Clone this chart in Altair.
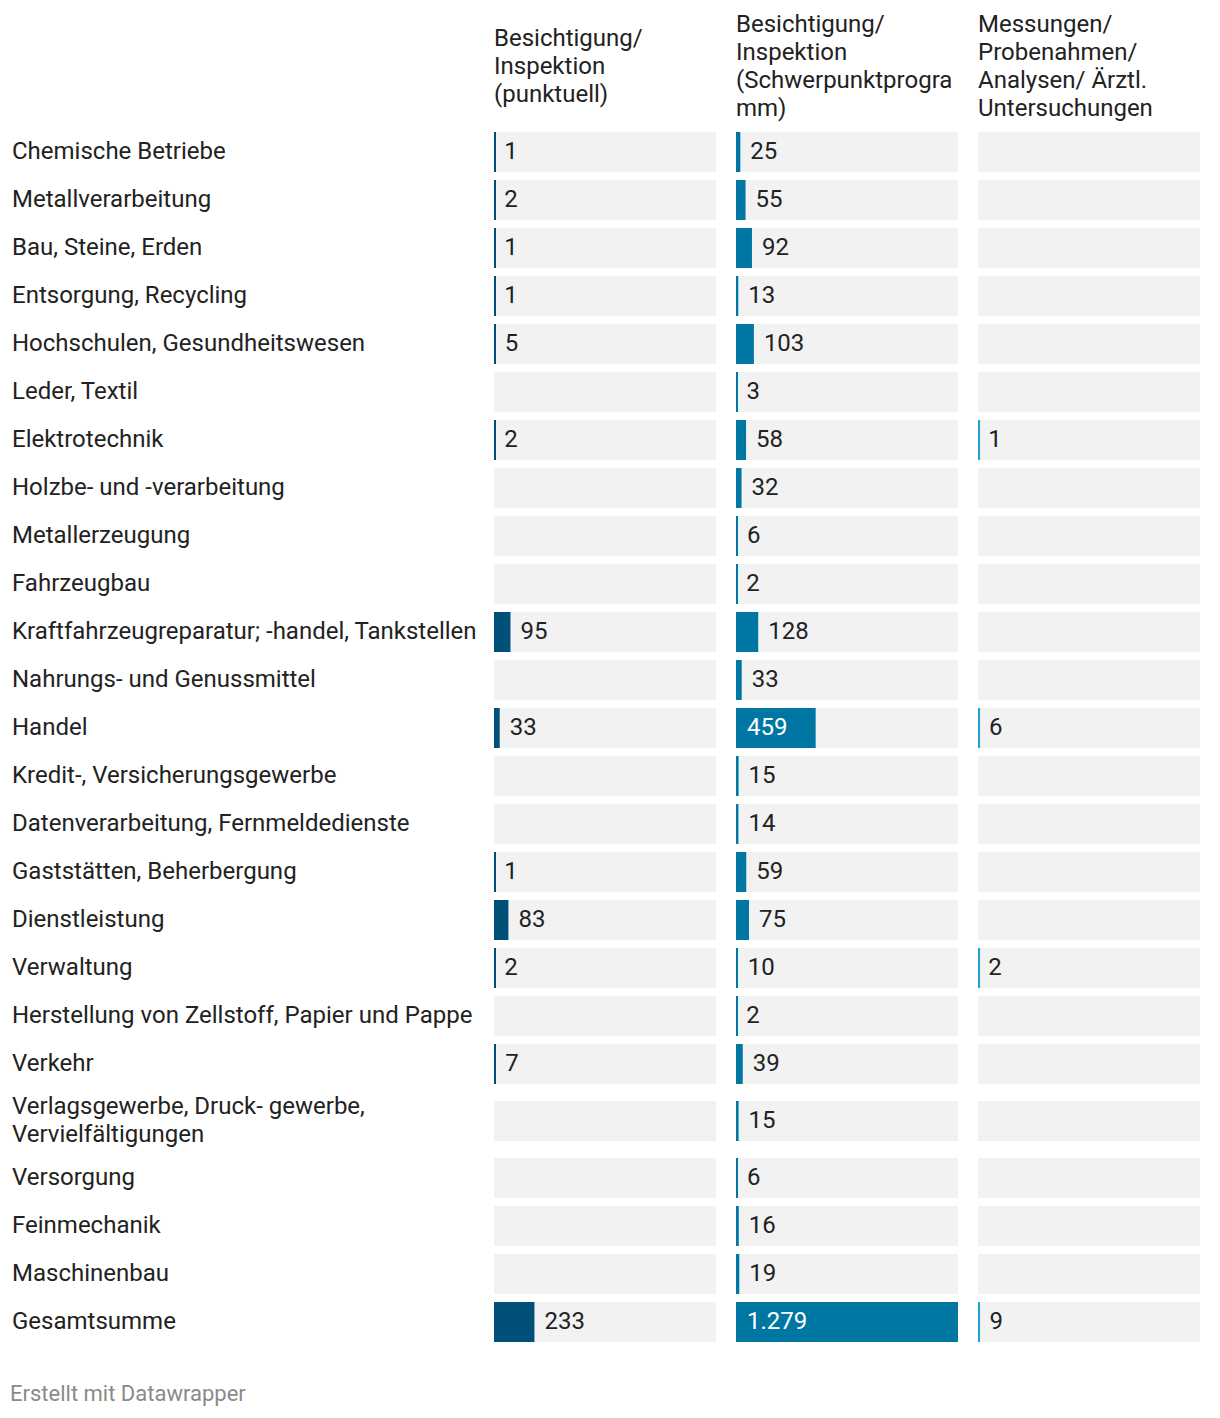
import altair as alt
import pandas as pd

# ---------------- data ----------------
categories = [
    "Chemische Betriebe",
    "Metallverarbeitung",
    "Bau, Steine, Erden",
    "Entsorgung, Recycling",
    "Hochschulen, Gesundheitswesen",
    "Leder, Textil",
    "Elektrotechnik",
    "Holzbe- und -verarbeitung",
    "Metallerzeugung",
    "Fahrzeugbau",
    "Kraftfahrzeugreparatur; -handel, Tankstellen",
    "Nahrungs- und Genussmittel",
    "Handel",
    "Kredit-, Versicherungsgewerbe",
    "Datenverarbeitung, Fernmeldedienste",
    "Gaststätten, Beherbergung",
    "Dienstleistung",
    "Verwaltung",
    "Herstellung von Zellstoff, Papier und Pappe",
    "Verkehr",
    "Verlagsgewerbe, Druck- gewerbe,\nVervielfältigungen",
    "Versorgung",
    "Feinmechanik",
    "Maschinenbau",
    "Gesamtsumme",
]

col_titles = [
    ["Besichtigung/", "Inspektion", "(punktuell)"],
    ["Besichtigung/", "Inspektion", "(Schwerpunktprogra", "mm)"],
    ["Messungen/", "Probenahmen/", "Analysen/ Ärztl.", "Untersuchungen"],
]

punktuell = [1, 2, 1, 1, 5, None, 2, None, None, None, 95, None, 33, None, None,
             1, 83, 2, None, 7, None, None, None, None, 233]
schwerpunkt = [25, 55, 92, 13, 103, 3, 58, 32, 6, 2, 128, 33, 459, 15, 14,
               59, 75, 10, 2, 39, 15, 6, 16, 19, 1279]
messungen = [None, None, None, None, None, None, 1, None, None, None, None, None, 6,
             None, None, None, None, 2, None, None, None, None, None, None, 9]

series = [punktuell, schwerpunkt, messungen]
colors = ["#00507a", "#0077a3", "#1f9fd4"]

FONT = "Roboto"
FS = 24
LH = 28
TXT = "#222222"

# ---------------- row layout (derived from label line count) ----------------
rows = []
top = 0
for i, cat in enumerate(categories):
    n_lines = cat.count("\n") + 1
    h = 48 + 18 * (n_lines - 1)
    center = top + h / 2
    rows.append(dict(idx=i, cat=cat, top=top, center=center,
                     text_y=center - LH / 2 * (n_lines - 1),
                     bar_top=top + (h - 40) / 2, bar_bot=top + (h - 40) / 2 + 40))
    top += h
total = top
rows_df = pd.DataFrame(rows)

vmax = max(v for s in series for v in s if v is not None)


def fmt(v):
    return f"{v:,}".replace(",", ".")


long_rows = []
for c, s in enumerate(series):
    for r, v in zip(rows, s):
        long_rows.append(dict(
            col=c, cat=r["cat"], center=r["center"], bar_top=r["bar_top"],
            bar_bot=r["bar_bot"], zero=0, bgmax=vmax, value=v,
            label="" if v is None else fmt(v),
            inside=(v is not None and v / vmax > 0.25),
        ))
long_df = pd.DataFrame(long_rows)

xs = alt.Scale(domain=[0, vmax], nice=False, zero=True)
ys = alt.Scale(domain=[0, total], reverse=True, nice=False, zero=False)

PANEL_W = 222


def panel(c):
    d = long_df[long_df.col == c]
    base = alt.Chart(d)
    yb = alt.Y("bar_top:Q", scale=ys, axis=None)
    bg = base.mark_rect(color="#f2f2f2").encode(
        x=alt.X("zero:Q", scale=xs, axis=None), x2="bgmax:Q", y=yb, y2="bar_bot:Q")
    valid = base.transform_filter("isValid(datum.value)")
    bars = valid.mark_rect(color=colors[c]).encode(
        x=alt.X("zero:Q", scale=xs, axis=None), x2="value:Q", y=yb, y2="bar_bot:Q")
    rule = valid.mark_rule(color=colors[c], strokeWidth=2, xOffset=1).encode(
        x=alt.X("zero:Q", scale=xs, axis=None), y=yb, y2="bar_bot:Q")
    out_t = base.transform_filter("isValid(datum.value) && !datum.inside").mark_text(
        align="left", baseline="middle", dx=10, font=FONT, fontSize=FS, color=TXT
    ).encode(x=alt.X("value:Q", scale=xs, axis=None),
             y=alt.Y("center:Q", scale=ys, axis=None), text="label:N")
    in_t = base.transform_filter("isValid(datum.value) && datum.inside").mark_text(
        align="left", baseline="middle", dx=11, font=FONT, fontSize=FS, color="white"
    ).encode(x=alt.X("zero:Q", scale=xs, axis=None),
             y=alt.Y("center:Q", scale=ys, axis=None), text="label:N")
    off = 7 + 14 * (4 - len(col_titles[c]))
    return alt.layer(bg, bars, rule, out_t, in_t).properties(
        width=PANEL_W, height=total,
        title=alt.TitleParams(col_titles[c], anchor="start", font=FONT, fontSize=FS,
                              fontWeight="normal", color=TXT, lineHeight=LH, offset=off),
    )


labels = alt.Chart(rows_df).mark_text(
    align="left", baseline="middle", font=FONT, fontSize=FS, color=TXT,
    lineBreak="\n", lineHeight=LH,
).encode(
    x=alt.value(0),
    y=alt.Y("text_y:Q", scale=ys, axis=None),
    text="cat:N",
).properties(width=462, height=total)

chart = alt.hconcat(labels, panel(0), panel(1), panel(2), spacing=20, bounds="flush").properties(
    title=alt.TitleParams("Erstellt mit Datawrapper", orient="bottom", anchor="start",
                          font=FONT, fontSize=22, fontWeight="normal", color="#8a8a8a",
                          offset=38, dx=-2),
    padding={"left": 2, "top": 5, "right": 5, "bottom": 5},
).configure_view(stroke=None)

chart.save("out.html", embed_options={"renderer": "svg", "actions": False})
